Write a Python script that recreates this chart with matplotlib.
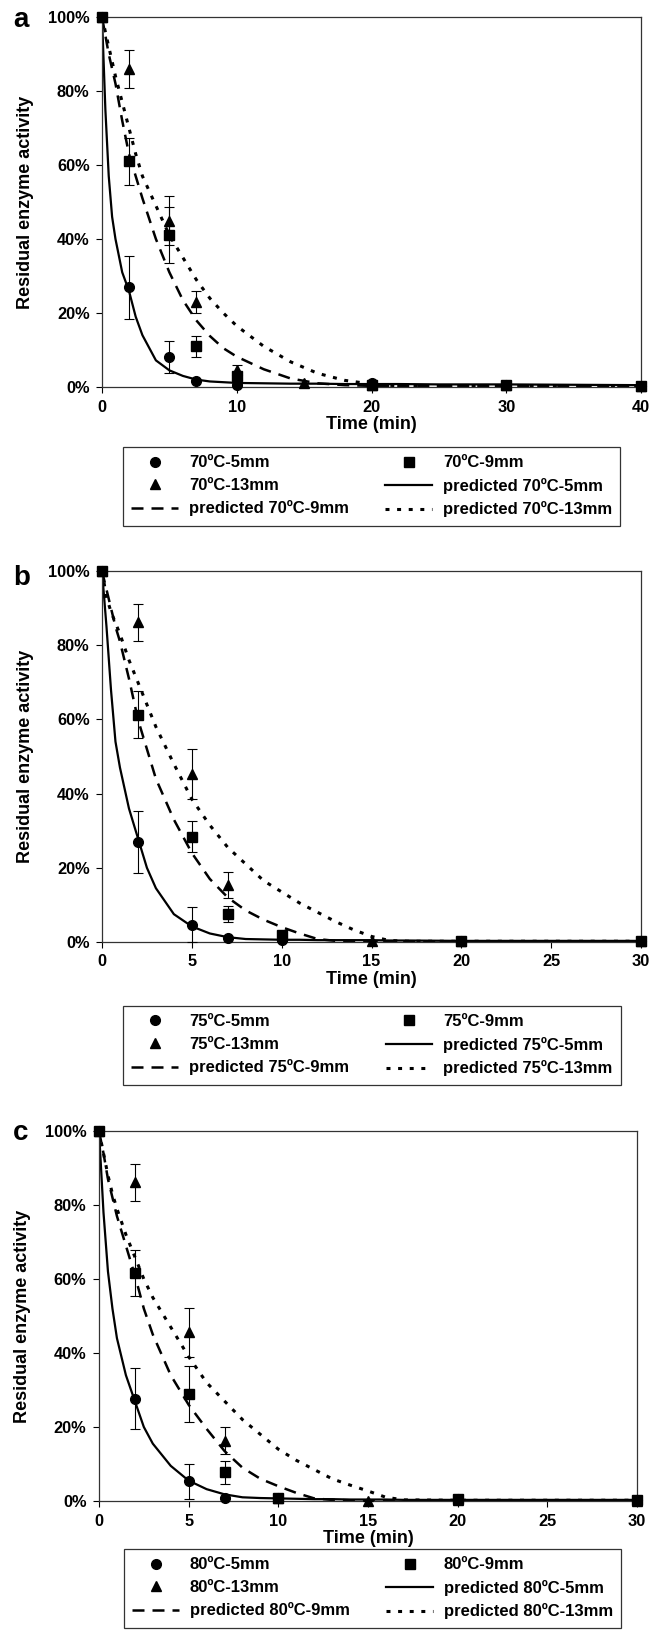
import numpy as np
import matplotlib
matplotlib.use('Agg')
import matplotlib.pyplot as plt
from matplotlib.lines import Line2D
from matplotlib.ticker import FuncFormatter

plt.rcParams['font.family'] = ['Liberation Sans', 'DejaVu Sans']
plt.rcParams['font.weight'] = 'bold'

########################################################################
### Data (residual activity, %)
########################################################################

### Panel a, 70 C
temp_a = '70'
pts_t_a = [0, 2, 5, 7, 10, 20, 30, 40]
circ_a = [100, 27, 8, 1.5, 0.6, 1.0, 0.6, 0.3]
circ_err_a = [0, 8.5, 4.3, 0, 0, 0, 0, 0]
sq_a = [100, 61, 41, 11, 2.9, 0.6, 0.6, 0.3]
sq_err_a = [0, 6.4, 7.6, 2.9, 0, 0, 0, 0]
tri_t_a = [0, 2, 5, 7, 10, 15, 20, 30, 40]
tri_a = [100, 86, 45, 23, 4.7, 1.0, 0.6, 0.5, 0.3]
tri_err_a = [0, 5.1, 6.5, 3.0, 1.2, 0, 0, 0, 0]

curve_t_a = [0, 0.25, 0.5, 0.75, 1, 1.5, 2, 2.5, 3, 4, 5, 6, 7, 8, 9, 10,
             12, 14, 16, 18, 20, 22, 25, 30, 40]
pred5_a = [100, 75, 57, 46, 40, 31, 26, 19, 14, 7.2, 4.5, 3, 2, 1.5, 1.3, 1.1,
           1.0, 0.9, 0.9, 0.8, 0.8, 0.8, 0.7, 0.7, 0.5]
pred9_a = [100, 95, 90, 86, 82, 72, 63, 57, 51, 40, 31, 23.5, 18, 13.8, 10.5, 8.2,
           4.8, 2.3, 1.0, 0.5, 0.3, 0.2, 0.2, 0.2, 0.2]
pred13_a = [100, 96, 92, 88, 84, 77, 70, 63, 57, 49, 41, 35, 29, 24, 20, 16.5,
            11, 6.8, 3.7, 1.8, 0.8, 0.3, 0.2, 0.2, 0.2]

### Panel b, 75 C
temp_b = '75'
pts_t_b = [0, 2, 5, 7, 10, 20, 30]
circ_b = [100, 27, 4.7, 1.2, 0.5, 0.3, 0.3]
circ_err_b = [0, 8.3, 4.6, 0, 0, 0, 0]
sq_b = [100, 61.3, 28.4, 7.5, 2.0, 0.3, 0.3]
sq_err_b = [0, 6.4, 4.2, 2.2, 0, 0, 0]
tri_t_b = [0, 2, 5, 7, 10, 15, 20, 30]
tri_b = [100, 86.2, 45.2, 15.4, 1.5, 0.3, 0.3, 0.3]
tri_err_b = [0, 5.0, 6.7, 3.6, 0, 0, 0, 0]

curve_t_bc = [0, 0.25, 0.5, 0.75, 1, 1.5, 2, 2.5, 3, 4, 5, 6, 7, 8, 9, 10,
              11, 12, 13, 14, 15, 16, 17, 20, 25, 30]
pred5_b = [100, 85, 68, 54, 47, 36, 28, 20, 14.5, 7.5, 4.2, 2.3, 1.3, 0.8, 0.7, 0.6,
           0.6, 0.5, 0.5, 0.5, 0.5, 0.4, 0.4, 0.3, 0.3, 0.3]
pred9_b = [100, 95, 90, 85, 81, 71, 60, 52, 44, 33, 24, 17, 12, 8.5, 6, 4,
           2.3, 0.8, 0.3, 0.2, 0.2, 0.2, 0.2, 0.2, 0.2, 0.2]
pred13_b = [100, 93, 89, 86, 83, 76, 70, 64, 58, 48, 38.5, 31.5, 25.5, 21, 16.5, 13.5,
            10.5, 8, 5.5, 3.3, 1.5, 0.4, 0.2, 0.2, 0.2, 0.2]

### Panel c, 80 C
temp_c = '80'
pts_t_c = [0, 2, 5, 7, 10, 20, 30]
circ_c = [100, 27.7, 5.3, 0.9, 0.9, 0.5, 0.2]
circ_err_c = [0, 8.2, 4.7, 0, 0, 0, 0]
sq_c = [100, 61.6, 29, 7.8, 0.9, 0.5, 0.2]
sq_err_c = [0, 6.3, 7.6, 3.1, 0, 0, 0]
tri_t_c = [0, 2, 5, 7, 10, 15, 20, 30]
tri_c = [100, 86.2, 45.6, 16.3, 0.9, 0, 0.2, 0]
tri_err_c = [0, 5.0, 6.6, 3.7, 0, 0, 0, 0]

pred5_c = [100, 78, 62, 52, 44, 34, 27, 20, 15.5, 9.5, 5.5, 3.2, 1.8, 1.0, 0.8, 0.7,
           0.6, 0.5, 0.5, 0.4, 0.4, 0.4, 0.3, 0.3, 0.3, 0.3]
pred9_c = [100, 94, 87, 82, 77, 69, 61, 52, 45, 34, 26, 19.5, 13.5, 9, 6, 4,
           2.2, 0.7, 0.3, 0.2, 0.2, 0.2, 0.2, 0.1, 0.1, 0.1]
pred13_c = [100, 94, 88, 83, 79, 72, 66, 60, 55, 47, 39, 32, 27, 22, 18, 14,
            11, 8.5, 6, 4.3, 2.7, 1.0, 0.3, 0.2, 0.2, 0.2]

yticks = [0, 20, 40, 60, 80, 100]

### line styles
DASH = (0, (4.8, 3.2))
DOT = (0, (1.3, 2.5))

########################################################################
def panel(fig, rect, letter, letter_y, temp, xmax, xticks,
          pts_t, circ, circ_err, sq, sq_err, tri_t, tri, tri_err,
          curve_t, p5, p9, p13, leg_xy):

  ax = fig.add_axes(rect)

  ### predicted curves
  ax.plot(curve_t, p5, color='black', lw=1.6, ls='-')
  ax.plot(curve_t, p9, color='black', lw=1.8, ls=DASH)
  ax.plot(curve_t, p13, color='black', lw=2.2, ls=DOT)

  ### measured points with error bars
  kw = dict(color='black', ecolor='black', elinewidth=0.8, capsize=3.5,
            capthick=0.8, ls='none', clip_on=False, zorder=5)
  ax.errorbar(pts_t, circ, yerr=circ_err, marker='o', ms=7, **kw)
  ax.errorbar(pts_t, sq, yerr=sq_err, marker='s', ms=6.5, **kw)
  ax.errorbar(tri_t, tri, yerr=tri_err, marker='^', ms=7.5, **kw)

  ax.set_xlim(0, xmax)
  ax.set_ylim(0, 100)
  ax.set_xticks(xticks)
  ax.set_yticks(yticks)
  ax.yaxis.set_major_formatter(FuncFormatter(lambda v, p: '%d%%' % v))
  ax.tick_params(direction='out', length=4, width=0.8, labelsize=11.8, pad=5)
  for s in ax.spines.values():
    s.set_linewidth(0.9)
    s.set_color('#333333')

  ax.set_ylabel('Residual enzyme activity', fontsize=13, fontweight='bold')
  ax.yaxis.set_label_coords(-0.127, 0.5)
  ax.set_xlabel('Time (min)', fontsize=13, fontweight='bold')
  ax.xaxis.set_label_coords(0.5, -0.078)

  fig.text(0.02, letter_y, letter, fontsize=20, fontweight='bold', va='baseline')

  ### legend, filled row by row like the original
  h_c = Line2D([], [], color='black', marker='o', ms=7, ls='none')
  h_s = Line2D([], [], color='black', marker='s', ms=6.5, ls='none')
  h_t = Line2D([], [], color='black', marker='^', ms=7.5, ls='none')
  h_5 = Line2D([], [], color='black', lw=1.6, ls='-')
  h_9 = Line2D([], [], color='black', lw=1.8, ls=DASH)
  h_13 = Line2D([], [], color='black', lw=2.2, ls=DOT)
  handles = [h_c, h_t, h_9, h_s, h_5, h_13]
  labels = ['%sºC-5mm' % temp, '%sºC-13mm' % temp, 'predicted %sºC-9mm' % temp,
            '%sºC-9mm' % temp, 'predicted %sºC-5mm' % temp, 'predicted %sºC-13mm' % temp]
  leg = fig.legend(handles, labels, loc='upper left', bbox_to_anchor=leg_xy, ncol=2,
                   fontsize=12, frameon=True, fancybox=False, handlelength=2.8,
                   handletextpad=0.65, columnspacing=2.2, labelspacing=0.45,
                   borderpad=0.5, borderaxespad=0)
  leg.get_frame().set_edgecolor('black')
  leg.get_frame().set_linewidth(0.9)
  return ax


########################################################################
if __name__ == "__main__":
  W, H = 658., 1630.
  fig = plt.figure(figsize=(W/100, H/100), dpi=100)

  panel(fig, [102/W, 1-387/H, 539/W, 370/H], 'a', 1-27/H, temp_a, 40, [0, 10, 20, 30, 40],
        pts_t_a, circ_a, circ_err_a, sq_a, sq_err_a, tri_t_a, tri_a, tri_err_a,
        curve_t_a, pred5_a, pred9_a, pred13_a, (123/W, 1-447/H))

  panel(fig, [102/W, 1-942/H, 539/W, 371/H], 'b', 1-585/H, temp_b, 30, [0, 5, 10, 15, 20, 25, 30],
        pts_t_b, circ_b, circ_err_b, sq_b, sq_err_b, tri_t_b, tri_b, tri_err_b,
        curve_t_bc, pred5_b, pred9_b, pred13_b, (123/W, 1-1006/H))

  panel(fig, [99/W, 1-1501/H, 538/W, 370/H], 'c', 1-1140/H, temp_c, 30, [0, 5, 10, 15, 20, 25, 30],
        pts_t_c, circ_c, circ_err_c, sq_c, sq_err_c, tri_t_c, tri_c, tri_err_c,
        curve_t_bc, pred5_c, pred9_c, pred13_c, (124/W, 1-1549/H))

  fig.savefig('out.png', dpi=100)
